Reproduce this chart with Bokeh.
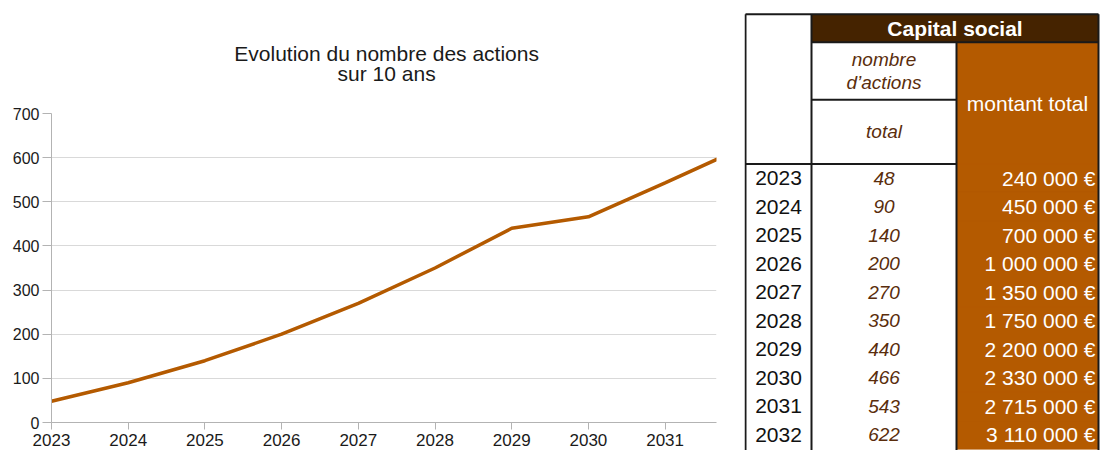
from bokeh.plotting import figure
from bokeh.layouts import row, column
from bokeh.models import Range1d, FixedTicker, ColumnDataSource
from bokeh.core.properties import value
from bokeh.embed import file_html
from bokeh.resources import INLINE

# ---------------- data ----------------
years = [2023, 2024, 2025, 2026, 2027, 2028, 2029, 2030, 2031, 2032]
actions = [48, 90, 140, 200, 270, 350, 440, 466, 543, 622]
montants = [240000, 450000, 700000, 1000000, 1350000, 1750000,
            2200000, 2330000, 2715000, 3110000]
y_ticks = [0, 100, 200, 300, 400, 500, 600, 700]
x_tick_years = [2023, 2024, 2025, 2026, 2027, 2028, 2029, 2030, 2031]
x_view = (2023, 2031.67)
y_view = (0, 700)

title_lines = ["Evolution du nombre des actions", "sur 10 ans"]
hdr_capital = "Capital social"
hdr_nombre = "nombre\nd\u2019actions"
hdr_total = "total"
hdr_montant = "montant total"

ORANGE = "#b45a00"
DARK = "#452300"
BROWN = "#5a2d0c"
FONT = "Liberation Sans"

def no_align(fig):
    if "frame_align" in fig.properties():
        fig.frame_align = False

# ---------------- title strip ----------------
TITLE_H = 95
tt = figure(width=744, height=TITLE_H, x_range=Range1d(0, 1), y_range=Range1d(0, 1),
            output_backend="svg", toolbar_location=None, title=None, min_border=0,
            x_axis_location=None, y_axis_location=None)
no_align(tt)
tt.grid.visible = False
tt.outline_line_color = None
tt.text(x=[0.519, 0.519], y=[0.445, 0.232], text=title_lines,
        text_font=value(FONT), text_font_size="21px", text_color="#1a1a1a",
        text_align="center", text_baseline="alphabetic")

# ---------------- chart ----------------
p = figure(width=744, height=450 - TITLE_H, x_range=Range1d(*x_view), y_range=Range1d(*y_view),
           output_backend="svg", toolbar_location=None, title=None,
           min_border_left=51, min_border_right=28, min_border_top=113 - TITLE_H,
           min_border_bottom=28)
no_align(p)

p.line(years, actions, line_color=ORANGE, line_width=3.5)

p.outline_line_color = None
p.xgrid.visible = False
p.ygrid.grid_line_color = "#d9d9d9"
p.ygrid.grid_line_width = 1
p.xaxis.ticker = FixedTicker(ticks=x_tick_years)
p.yaxis.ticker = FixedTicker(ticks=y_ticks)
for ax in (p.xaxis[0], p.yaxis[0]):
    ax.axis_line_color = "#b3b3b3"
    ax.major_tick_line_color = "#b3b3b3"
    ax.minor_tick_line_color = None
    ax.major_tick_in = 0
    ax.major_label_text_font = FONT
    ax.major_label_text_color = "#1a1a1a"
p.xaxis.major_label_text_font_size = "17px"
p.yaxis.major_label_text_font_size = "16px"
p.xaxis.major_tick_out = 7
p.xaxis.major_label_standoff = 4
p.xaxis.major_label_text_line_height = 0.7
p.yaxis.major_tick_out = 9
p.yaxis.major_label_standoff = 3

# ---------------- table ----------------
col_edges = [1, 67, 212, 354]
top_edge = -5.75
band_bottom = -4.767
sub_split = -2.75
hdr_bottom = -0.5
bottom_edge = 9.8

t = figure(width=357, height=450, x_range=Range1d(0, 357), y_range=Range1d(9.55, -6.234),
           output_backend="svg", toolbar_location=None, min_border=0, title=None,
           x_axis_location=None, y_axis_location=None)
no_align(t)
t.grid.visible = False
t.outline_line_color = None

idx = list(range(len(years)))
labels_eur = [f"{v:,}".replace(",", " ") + " \u20ac" for v in montants]
src = ColumnDataSource(dict(
    i=idx, year=[str(y) for y in years], act=[str(a) for a in actions], eur=labels_eur,
    top=[i - 0.5 for i in idx], bottom=[i + 0.5 for i in idx],
))

# backgrounds
t.quad(left=col_edges[1], right=col_edges[3], top=top_edge, bottom=band_bottom,
       fill_color=DARK, line_color=None)
t.quad(left=col_edges[2], right=col_edges[3], top=band_bottom, bottom=hdr_bottom,
       fill_color=ORANGE, line_color=None)
t.quad(left=col_edges[2], right=col_edges[3], top="top", bottom="bottom", source=src,
       fill_color=ORANGE, line_color=ORANGE, line_width=1)

# borders
bx0 = [col_edges[0], col_edges[0], col_edges[3], col_edges[1], col_edges[2],
       col_edges[1], col_edges[1], col_edges[0]]
bx1 = [col_edges[3], col_edges[0], col_edges[3], col_edges[1], col_edges[2],
       col_edges[3], col_edges[2], col_edges[2]]
by0 = [top_edge, top_edge, top_edge, top_edge, band_bottom, band_bottom, sub_split, hdr_bottom]
by1 = [top_edge, bottom_edge, bottom_edge, bottom_edge, bottom_edge, band_bottom, sub_split, hdr_bottom]
t.segment(x0=bx0, y0=by0, x1=bx1, y1=by1, line_color="#1a1a1a", line_width=2)

# texts
cx = [(col_edges[k] + col_edges[k + 1]) / 2 for k in range(3)]
t.text(x=cx[0], y="i", text="year", source=src, text_font=value(FONT),
       text_font_size="21px", text_color="#111111", text_align="center", text_baseline="middle")
t.text(x=cx[1], y="i", text="act", source=src, text_font=value(FONT), text_font_style="italic",
       text_font_size="19px", text_color=BROWN, text_align="center", text_baseline="middle")
t.text(x=col_edges[3] - 3, y="i", text="eur", source=src, text_font=value(FONT),
       text_font_size="21px", text_color="#ffffff", text_align="right", text_baseline="middle")

t.text(x=[(col_edges[1] + col_edges[3]) / 2], y=[(top_edge + band_bottom) / 2], text=[hdr_capital],
       text_font=value(FONT), text_font_style="bold", text_font_size="21px",
       text_color="#ffffff", text_align="center", text_baseline="middle")
t.text(x=[cx[1]], y=[(band_bottom + sub_split) / 2], text=[hdr_nombre],
       text_font=value(FONT), text_font_style="italic", text_font_size="19px",
       text_color=BROWN, text_align="center", text_baseline="middle", text_line_height=1.07)
t.text(x=[cx[1]], y=[(sub_split + hdr_bottom) / 2], text=[hdr_total],
       text_font=value(FONT), text_font_style="italic", text_font_size="19px",
       text_color=BROWN, text_align="center", text_baseline="middle")
t.text(x=[cx[2]], y=[(band_bottom + hdr_bottom) / 2], text=[hdr_montant],
       text_font=value(FONT), text_font_size="21px",
       text_color="#ffffff", text_align="center", text_baseline="middle")

layout = row(column(tt, p), t)
open("out.html", "w").write(file_html(layout, INLINE))
